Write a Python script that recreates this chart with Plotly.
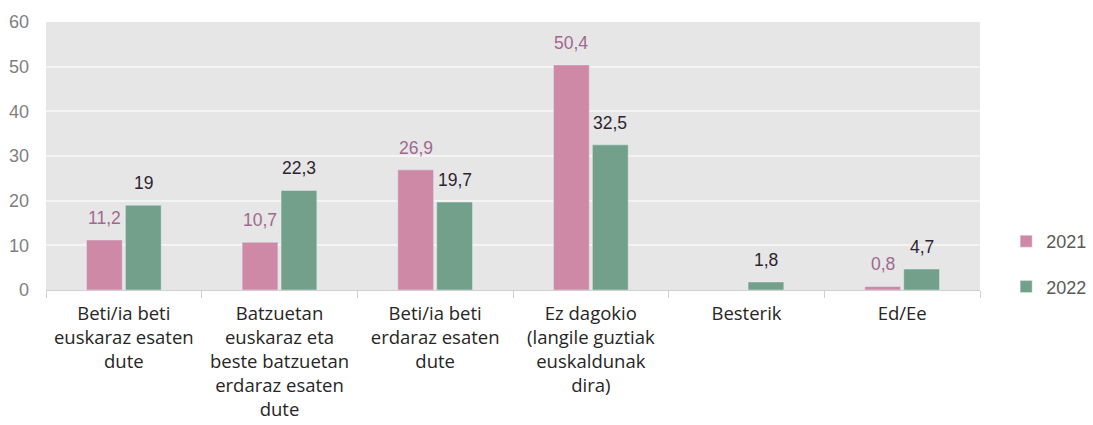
import plotly.graph_objects as go

categories = [
    "Beti/ia beti<br>euskaraz esaten<br>dute",
    "Batzuetan<br>euskaraz eta<br>beste batzuetan<br>erdaraz esaten<br>dute",
    "Beti/ia beti<br>erdaraz esaten<br>dute",
    "Ez dagokio<br>(langile guztiak<br>euskaldunak<br>dira)",
    "Besterik",
    "Ed/Ee",
]
values_2021 = [11.2, 10.7, 26.9, 50.4, None, 0.8]
values_2022 = [19, 22.3, 19.7, 32.5, 1.8, 4.7]
y_ticks = [0, 10, 20, 30, 40, 50, 60]

PINK = "#cd89a5"
GREEN = "#72a08a"
PINK_TEXT = "#a0688f"
DARK_TEXT = "#2e2430"
BAR_OFFSET = 19.5  # px from category centre to each bar centre


def fmt(v):
    return f"{v:g}".replace(".", ",")


fig = go.Figure()
fig.add_trace(go.Bar(x=categories, y=values_2021, name="2021",
                     marker_color=PINK, legendgroup="a"))
fig.add_trace(go.Bar(x=categories, y=values_2022, name="2022",
                     marker_color=GREEN, legendgroup="b"))

# value labels above each bar
for series, sign, col in ((values_2021, -1, PINK_TEXT), (values_2022, 1, DARK_TEXT)):
    for cat, v in zip(categories, series):
        if v is None:
            continue
        fig.add_annotation(x=cat, y=v, text=fmt(v), showarrow=False,
                           xshift=sign * BAR_OFFSET,
                           yanchor="bottom", yshift=10,
                           font=dict(family="Liberation Sans, Arial", size=17.5, color=col))

fig.update_layout(
    width=1093, height=425,
    margin=dict(l=46, r=113, t=22, b=135, autoexpand=False),
    paper_bgcolor="white",
    plot_bgcolor="#e6e6e6",
    barmode="group",
    bargap=0.5,
    bargroupgap=0.08,
    showlegend=True,
    legend=dict(x=1.028, y=0.25, xanchor="left", yanchor="top",
                tracegroupgap=19,
                font=dict(family="Liberation Sans, Arial", size=18, color="#595959"),
                itemwidth=30, bgcolor="rgba(0,0,0,0)"),
    font=dict(family="Liberation Sans, Arial"),
)
fig.update_xaxes(
    showline=True, linecolor="#d0d0d0", linewidth=1,
    ticks="outside", tickson="boundaries", ticklen=7, tickcolor="#d0d0d0",
    tickfont=dict(family="Open Sans", size=18.5, color="#262626"),
    ticklabelstandoff=7,
    showgrid=False,
)
fig.update_yaxes(
    range=[0, 60], tickvals=y_ticks,
    showgrid=True, gridcolor="#f4f4f4", gridwidth=1.5,
    zeroline=False,
    tickfont=dict(family="Liberation Sans, Arial", size=18, color="#7f7f7f"),
    ticks="", ticklabelstandoff=16,
)

fig.write_html("out.html")
